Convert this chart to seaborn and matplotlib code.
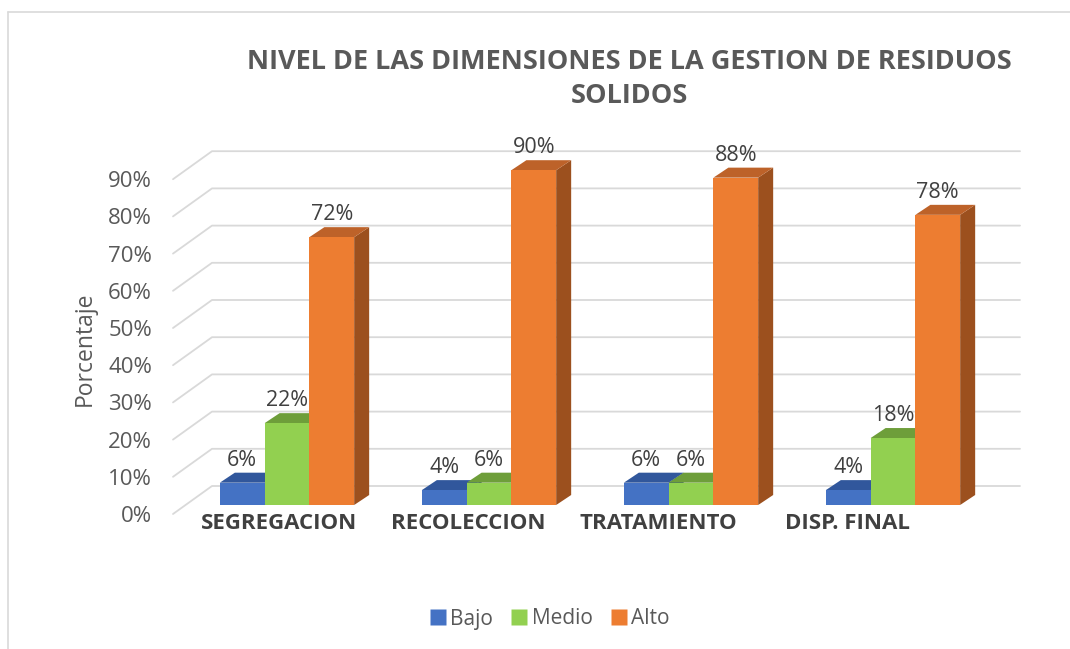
import numpy as np
import pandas as pd
import matplotlib
matplotlib.use("Agg")
import matplotlib.pyplot as plt
import matplotlib.transforms as mtransforms
from matplotlib.patches import Polygon
from matplotlib.lines import Line2D
import seaborn as sns

# ---- data ----
categories = ["SEGREGACION", "RECOLECCION", "TRATAMIENTO", "DISP. FINAL"]
niveles = ["Bajo", "Medio", "Alto"]
bajo = [0.06, 0.04, 0.06, 0.04]
medio = [0.22, 0.06, 0.06, 0.18]
alto = [0.72, 0.90, 0.88, 0.78]
ytick_vals = [0.0, 0.1, 0.2, 0.3, 0.4, 0.5, 0.6, 0.7, 0.8, 0.9]
ytick_labels = ["0%", "10%", "20%", "30%", "40%", "50%", "60%", "70%", "80%", "90%"]
title = "NIVEL DE LAS DIMENSIONES DE LA GESTION DE RESIDUOS\nSOLIDOS"
ylabel = "Porcentaje"

front_colors = {"Bajo": "#4472C4", "Medio": "#92D050", "Alto": "#ED7D31"}
top_colors = {"Bajo": "#31579C", "Medio": "#6E9E3A", "Alto": "#BD6229"}
side_colors = {"Bajo": "#2A4A86", "Medio": "#5F8A31", "Alto": "#9C501E"}

df = pd.DataFrame({
    "cat": categories * 3,
    "nivel": [n for n in niveles for _ in categories],
    "val": bajo + medio + alto,
})

sns.set_style("white")
plt.rcParams["font.family"] = ["Open Sans", "DejaVu Sans"]

W, H = 1070, 649
fig = plt.figure(figsize=(W / 100, H / 100), dpi=100)
ax_left, ax_right = 186, 994
ax_base, ax_top = 505, 133
ax = fig.add_axes([ax_left / W, (H - ax_base) / H, (ax_right - ax_left) / W, (ax_base - ax_top) / H])

sns.barplot(data=df, x="cat", y="val", hue="nivel", palette=front_colors,
            width=0.665, gap=0, saturation=1, ax=ax, legend=False, zorder=3)
ax.set_xlim(-0.5, 3.5)
ax.set_ylim(0, 1.0)

px_x = (ax_right - ax_left) / 4.0   # pixels per x data unit
px_y = (ax_base - ax_top) / 1.0     # pixels per y data unit
ddx = 15 / px_x
ddy = 10 / px_y

patches = [p for p in ax.patches]
order = sorted(range(len(patches)), key=lambda i: patches[i].get_x())
for rank, i in enumerate(order):
    p = patches[i]
    nivel = niveles[i // len(categories)]
    x0, w, h = p.get_x(), p.get_width(), p.get_height()
    z = 3 + rank * 0.01
    p.set_zorder(z + 0.003)
    p.set_edgecolor("none")
    top = Polygon([(x0, h), (x0 + w, h), (x0 + w + ddx, h + ddy), (x0 + ddx, h + ddy)],
                  closed=True, fc=top_colors[nivel], ec="none", zorder=z + 0.002)
    side = Polygon([(x0 + w, 0), (x0 + w + ddx, ddy), (x0 + w + ddx, h + ddy), (x0 + w, h)],
                   closed=True, fc=side_colors[nivel], ec="none", zorder=z + 0.001)
    ax.add_patch(top)
    ax.add_patch(side)
    ax.text(x0 + w / 2, h + 12 / px_y, f"{round(h * 100):d}%", ha="center", va="bottom",
            fontsize=15.5, color="#404040", zorder=10)

# back wall gridlines with left diagonal (floor/wall perspective)
gtrans = mtransforms.blended_transform_factory(fig.transFigure, ax.transData)
back_dy = 19 / px_y
front_dy = -9 / px_y
for v in ytick_vals:
    ax.add_line(Line2D([173 / W, 212 / W, 1020 / W], [v + front_dy, v + back_dy, v + back_dy],
                       transform=gtrans, color="#D9D9D9", lw=1.3, zorder=1, clip_on=False))

ax.set_yticks(ytick_vals)
ax.set_yticklabels(ytick_labels)
ax.tick_params(axis="y", length=0, pad=24.5, labelsize=16, labelcolor="#595959")
shift_y = mtransforms.ScaledTranslation(0, -9 / 100, fig.dpi_scale_trans)
for lab in ax.get_yticklabels():
    lab.set_transform(lab.get_transform() + shift_y)

ax.set_xticks(range(len(categories)))
ax.set_xticklabels(categories, fontweight="bold")
ax.tick_params(axis="x", length=0, pad=6, labelsize=16, labelcolor="#404040")
# category labels sit on the (perspective-narrowed) front plane
persp = mtransforms.Affine2D().scale(0.938, 1.0).translate(9.8, 0)
for lab in ax.get_xticklabels():
    lab.set_transform(lab.get_transform() + persp)

ax.set_xlabel("")
ax.set_ylabel(ylabel, fontsize=16.5, color="#595959")
ax.yaxis.set_label_coords(97 / W, 0.42, transform=mtransforms.blended_transform_factory(fig.transFigure, ax.transAxes))
for s in ax.spines.values():
    s.set_visible(False)
ax.grid(False)
ax.patch.set_alpha(0)

fig.text(629 / W, 1 - 79 / H, title, ha="center", va="center", fontsize=19.5,
         fontweight="bold", color="#595959", linespacing=1.4)

handles = [Line2D([0], [0], marker="s", linestyle="none", markersize=11,
                  markerfacecolor=front_colors[n], markeredgecolor="none") for n in niveles]
fig.legend(handles, niveles, loc="center", bbox_to_anchor=(549 / W, 1 - 619 / H), ncol=3,
           frameon=False, fontsize=15, labelcolor="#595959", handletextpad=0.15,
           columnspacing=0.8, handlelength=0.9)

# chart area border (top and left visible)
fig.add_artist(Line2D([8 / W, 8 / W], [0, 1 - 12 / H], transform=fig.transFigure, color="#D9D9D9", lw=1.2))
fig.add_artist(Line2D([8 / W, 1], [1 - 12 / H, 1 - 12 / H], transform=fig.transFigure, color="#D9D9D9", lw=1.2))

fig.savefig("out.png", dpi=100)
